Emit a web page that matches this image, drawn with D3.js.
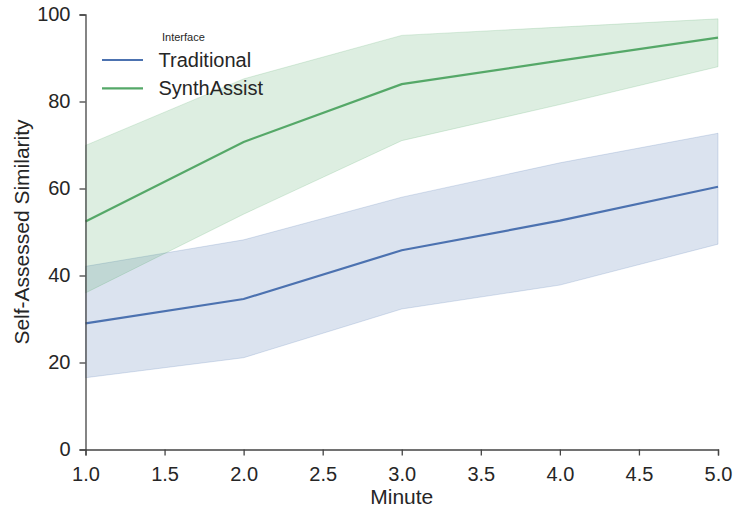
<!DOCTYPE html>
<html>
<head>
<meta charset="utf-8">
<script src="https://cdn.jsdelivr.net/npm/d3@7"></script>
<style>
  html, body { margin: 0; padding: 0; background: #fff; }
  svg { display: block; font-family: "Liberation Sans", Arial, sans-serif; }
</style>
</head>
<body>
<svg id="chart" width="735" height="512"></svg>
<script>
// Minutes sampled
const minutes = [1, 2, 3, 4, 5];

// Traditional interface: mean and confidence band
const traditionalMean  = [29.0, 34.6, 45.8, 52.6, 60.4];
const traditionalLower = [16.5, 21.1, 32.3, 37.8, 47.2];
const traditionalUpper = [42.1, 48.2, 58.0, 65.9, 72.7];

// SynthAssist interface: mean and confidence band
const synthMean  = [52.4, 70.7, 84.0, 89.4, 94.7];
const synthLower = [36.0, 54.1, 71.0, 79.3, 88.0];
const synthUpper = [69.9, 85.2, 95.2, 97.1, 99.0];

const seriesNames  = ["Traditional", "SynthAssist"];
const seriesColors = ["#4C72B0", "#55A868"];

const xTicks = [1.0, 1.5, 2.0, 2.5, 3.0, 3.5, 4.0, 4.5, 5.0];
const yTicks = [0, 20, 40, 60, 80, 100];

const series = [
  { name: seriesNames[0], color: seriesColors[0], mean: traditionalMean, lo: traditionalLower, hi: traditionalUpper },
  { name: seriesNames[1], color: seriesColors[1], mean: synthMean, lo: synthLower, hi: synthUpper }
];

const margin = { left: 85.5, right: 17, top: 14.5, bottom: 62.5 };
const W = 735, H = 512;
const svg = d3.select("#chart");

const x = d3.scaleLinear().domain([1, 5]).range([margin.left, W - margin.right]);
const y = d3.scaleLinear().domain([0, 100]).range([H - margin.bottom, margin.top]);

// Confidence bands
const area = d3.area()
  .x((d, i) => x(minutes[i]))
  .y0(d => y(d[0]))
  .y1(d => y(d[1]));

series.forEach(s => {
  svg.append("path")
    .datum(s.lo.map((v, i) => [v, s.hi[i]]))
    .attr("d", area)
    .attr("fill", s.color)
    .attr("fill-opacity", 0.2)
    .attr("stroke", s.color)
    .attr("stroke-opacity", 0.2)
    .attr("stroke-width", 1);
});

// Mean lines
const line = d3.line()
  .x((d, i) => x(minutes[i]))
  .y(d => y(d));

series.forEach(s => {
  svg.append("path")
    .datum(s.mean)
    .attr("d", line)
    .attr("fill", "none")
    .attr("stroke", s.color)
    .attr("stroke-width", 2.2);
});

// Axes
const axisColor = "#444";
const xAxis = svg.append("g")
  .attr("transform", `translate(0,${y(0)})`)
  .call(d3.axisBottom(x).tickValues(xTicks).tickFormat(d3.format(".1f")).tickSizeOuter(0).tickSize(6).tickPadding(11));
const yAxis = svg.append("g")
  .attr("transform", `translate(${x(1)},0)`)
  .call(d3.axisLeft(y).tickValues(yTicks).tickFormat(d3.format("d")).tickSizeOuter(0).tickSize(6).tickPadding(9));

[xAxis, yAxis].forEach(g => {
  g.select(".domain").attr("stroke", axisColor).attr("stroke-width", 1.3);
  g.selectAll(".tick line").attr("stroke", axisColor).attr("stroke-width", 1.3);
  g.selectAll(".tick text")
    .attr("fill", "#262626")
    .style("font-size", "20px")
    .style("font-family", "'Liberation Sans', Arial, sans-serif");
});

// Axis titles
svg.append("text")
  .attr("x", (x(1) + x(5)) / 2)
  .attr("y", 504)
  .attr("text-anchor", "middle")
  .attr("fill", "#262626")
  .style("font-size", "21px")
  .text("Minute");

svg.append("text")
  .attr("transform", `translate(29,${(y(0) + y(100)) / 2}) rotate(-90)`)
  .attr("text-anchor", "middle")
  .attr("fill", "#262626")
  .style("font-size", "21px")
  .text("Self-Assessed Similarity");

// Legend
const legend = svg.append("g");
legend.append("text")
  .attr("x", 162)
  .attr("y", 40.5)
  .attr("fill", "#262626")
  .style("font-size", "11px")
  .text("Interface");

series.forEach((s, i) => {
  const ly = 60 + i * 28.3;
  legend.append("line")
    .attr("x1", 102).attr("x2", 143)
    .attr("y1", ly).attr("y2", ly)
    .attr("stroke", s.color)
    .attr("stroke-width", 2.2);
  legend.append("text")
    .attr("x", 158.5)
    .attr("y", ly + 6.8)
    .attr("fill", "#262626")
    .style("font-size", "20px")
    .text(s.name);
});
</script>
</body>
</html>
